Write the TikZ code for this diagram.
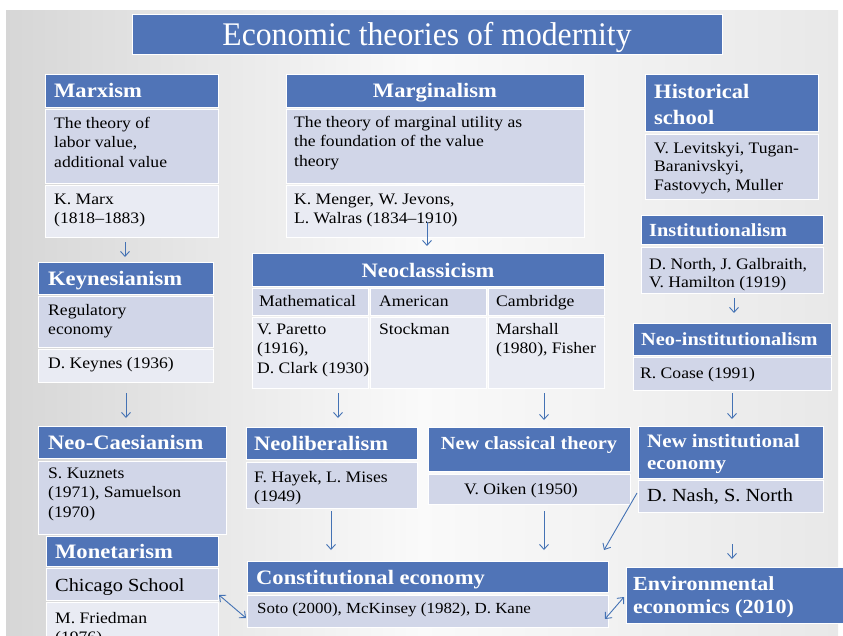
\documentclass[tikz,border=0pt]{standalone}
\usepackage{fontspec}
\setmainfont{Liberation Serif}[FakeStretch=1.1]
\newfontfamily\titlefont{Liberation Serif}
\usetikzlibrary{arrows.meta,fit}
\definecolor{hdrc}{HTML}{5074B7}
\definecolor{bodyA}{HTML}{D1D6E8}
\definecolor{bodyB}{HTML}{E9EBF3}
\definecolor{arrc}{HTML}{4472B4}
\newcommand\lines[1]{\vtop{\halign{##\hfil\cr#1\crcr}}}
\tikzset{
  boxbase/.style={inner sep=0pt, outer sep=0pt, draw=white, line width=0.8pt},
  hdr/.style={boxbase, fill=hdrc},
  bA/.style={boxbase, fill=bodyA},
  bB/.style={boxbase, fill=bodyB},
  ht/.style={text=white, font=\bfseries\fontsize{20.5}{26}\selectfont, inner sep=0pt, anchor=base west},
  hts/.style={ht, font=\bfseries\fontsize{18.5}{22}\selectfont},
  bt/.style={font=\fontsize{16}{19.5}\selectfont, inner sep=0pt, anchor=base west},
  bts/.style={font=\fontsize{16}{18.5}\selectfont, inner sep=0pt, anchor=base west},
  btl/.style={font=\fontsize{18.5}{22}\selectfont, inner sep=0pt, anchor=base west},
  conn/.style={draw=arrc, line width=0.9pt, -{Straight Barb[length=5pt,width=9pt]}},
  dconn/.style={draw=arrc, line width=0.9pt, {Straight Barb[length=5pt,width=9pt]}-{Straight Barb[length=5pt,width=9pt]}}
}
\newcommand\bx[6]{\node[#6, fit={(#2,#3) (#4,#5)}] (#1) {};}
\begin{document}
\begin{tikzpicture}[x=1pt,y=-1pt]
\useasboundingbox (0,0) rectangle (843,635);
\begin{scope}
\clip (0,0) rectangle (843,635);
\fill[white] (0,0) rectangle (843,635);
\shade[left color=black!16, right color=black!9, middle color=black!2] (6,10) rectangle (838,635);

% title
\bx{title}{132}{14}{722}{54}{hdr}
\node[text=white, inner sep=0pt, anchor=base] (ttitle) at (427,45) {\scalebox{0.96}[1]{\titlefont\fontsize{33}{33}\selectfont Economic theories of modernity}};

% Marxism
\bx{marxH}{45}{74}{218}{107}{hdr}
\bx{marxA}{45}{109}{218}{183}{bA}
\bx{marxB}{45}{185}{218}{237}{bB}
\node[ht] (tmarxH) at (54,97) {Marxism};
\node[bt] (tmarxA) at (54,128) {\lines{The theory of\cr labor value,\cr additional value}};
\node[bt] (tmarxB) at (54,204) {\lines{K. Marx\cr (1818--1883)}};

% Marginalism
\bx{margH}{286}{74}{584}{107}{hdr}
\bx{margA}{286}{109}{584}{183}{bA}
\bx{margB}{286}{185}{584}{237}{bB}
\node[ht, anchor=base] (tmargH) at (435,97) {Marginalism};
\node[bt] (tmargA) at (294,127) {\lines{The theory of marginal utility as\cr the foundation of the value\cr theory}};
\node[bt] (tmargB) at (294,204) {\lines{K. Menger, W. Jevons,\cr L. Walras (1834--1910)}};

% Historical school
\bx{histH}{645}{74}{818}{131}{hdr}
\bx{histB}{645}{134}{818}{199}{bA}
\node[ht] (thistH) at (654,98) {\lines{Historical\cr school}};
\node[bts] (thistB) at (654,153) {\lines{V. Levitskyi, Tugan-\cr Baranivskyi,\cr Fastovych, Muller}};

% Institutionalism
\bx{instH}{641}{215}{823}{244}{hdr}
\bx{instB}{641}{247}{823}{293}{bA}
\node[hts] (tinstH) at (649,236) {Institutionalism};
\node[bts] (tinstB) at (649,269) {\lines{D. North, J. Galbraith,\cr V. Hamilton (1919)}};

% Neo-institutionalism
\bx{ninstH}{633}{323}{831}{355}{hdr}
\bx{ninstB}{633}{357}{831}{390}{bA}
\node[hts] (tninstH) at (641,345) {Neo-institutionalism};
\node[bts] (tninstB) at (640,378) {R. Coase (1991)};

% Keynesianism
\bx{keyH}{38}{262}{213}{294}{hdr}
\bx{keyA}{38}{296}{213}{347}{bA}
\bx{keyB}{38}{349}{213}{382}{bB}
\node[ht] (tkeyH) at (48,285) {Keynesianism};
\node[bt] (tkeyA) at (48,315) {\lines{Regulatory\cr economy}};
\node[bt] (tkeyB) at (48,368) {D. Keynes (1936)};

% Neoclassicism
\bx{neoH}{252}{253}{604}{286}{hdr}
\bx{neoC1}{252}{288}{368}{315}{bA}
\bx{neoC2}{370}{288}{486}{315}{bA}
\bx{neoC3}{488}{288}{604}{315}{bA}
\bx{neoD1}{252}{317}{368}{388}{bB}
\bx{neoD2}{370}{317}{486}{388}{bB}
\bx{neoD3}{488}{317}{604}{388}{bB}
\node[ht, anchor=base] (tneoH) at (428,277) {Neoclassicism};
\node[bt] (tneoC1) at (259,306) {Mathematical};
\node[bt] (tneoC2) at (379,306) {American};
\node[bt] (tneoC3) at (496,306) {Cambridge};
\node[bt] (tneoD1) at (257,334) {\lines{V. Paretto\cr (1916),\cr D. Clark (1930)}};
\node[bt] (tneoD2) at (379,334) {Stockman};
\node[bt] (tneoD3) at (496,334) {\lines{Marshall\cr (1980), Fisher}};

% Neo-Caesianism
\bx{ncH}{38}{426}{226}{458}{hdr}
\bx{ncB}{38}{461}{226}{534}{bA}
\node[ht] (tncH) at (48,449) {Neo-Caesianism};
\node[bt] (tncB) at (48,478) {\lines{S. Kuznets\cr (1971), Samuelson\cr (1970)}};

% Neoliberalism
\bx{nlH}{246}{427}{417}{459}{hdr}
\bx{nlB}{246}{462}{417}{508}{bA}
\node[ht] (tnlH) at (254,450) {Neoliberalism};
\node[bt] (tnlB) at (254,482) {\lines{F. Hayek, L. Mises\cr (1949)}};

% New classical theory
\bx{ncltH}{428}{427}{630}{471}{hdr}
\bx{ncltB}{428}{474}{630}{504}{bA}
\node[hts, anchor=base] (tncltH) at (529,449) {New classical theory};
\node[bt, anchor=base] (tncltB) at (521,494) {V. Oiken (1950)};

% New institutional economy
\bx{nieH}{638}{426}{823}{478}{hdr}
\bx{nieB}{638}{480}{823}{512}{bA}
\node[ht, font=\bfseries\fontsize{19}{22}\selectfont] (tnieH) at (647,447) {\lines{New institutional\cr economy}};
\node[btl] (tnieB) at (647,501) {D. Nash, S. North};

% Monetarism
\bx{monH}{46}{536}{218}{566}{hdr}
\bx{monA}{46}{568}{218}{600}{bA}
\bx{monB}{46}{602}{218}{645}{bB}
\node[ht] (tmonH) at (55,558) {Monetarism};
\node[btl] (tmonA) at (55,591) {Chicago School};
\node[bt] (tmonB) at (55,623) {\lines{M. Friedman\cr (1976)}};

% Constitutional economy
\bx{conH}{247}{561}{608}{592}{hdr}
\bx{conB}{247}{595}{608}{627}{bA}
\node[ht] (tconH) at (256,584) {Constitutional economy};
\node[bts, font=\fontsize{15.4}{18}\selectfont] (tconB) at (257,613) {Soto (2000), McKinsey (1982), D. Kane};

% Environmental economics
\bx{envH}{626}{567}{860}{623}{hdr}
\node[ht, font=\bfseries\fontsize{20}{23}\selectfont] (tenvH) at (633,590) {\lines{Environmental\cr economics (2010)}};

% connectors
\coordinate (p1s) at (125,242); \coordinate (p1e) at (125,257);
\coordinate (p2s) at (427,222); \coordinate (p2e) at (427,246);
\coordinate (p3s) at (734,298); \coordinate (p3e) at (734,313);
\coordinate (p4s) at (126,393); \coordinate (p4e) at (126,418);
\coordinate (p5s) at (338,393); \coordinate (p5e) at (338,418);
\coordinate (p6s) at (544,393); \coordinate (p6e) at (544,420);
\coordinate (p7s) at (732,393); \coordinate (p7e) at (732,419);
\coordinate (p8s) at (331,511); \coordinate (p8e) at (331,550);
\coordinate (p9s) at (544,511); \coordinate (p9e) at (544,550);
\coordinate (p10s) at (637,493); \coordinate (p10e) at (604,550);
\coordinate (p11s) at (732,544); \coordinate (p11e) at (732,559);
\coordinate (p12s) at (219,595); \coordinate (p12e) at (246,618);
\coordinate (p13s) at (605,619); \coordinate (p13e) at (624,597);
\draw[conn] (p1s) -- (p1e);
\draw[conn] (p2s) -- (p2e);
\draw[conn] (p3s) -- (p3e);
\draw[conn] (p4s) -- (p4e);
\draw[conn] (p5s) -- (p5e);
\draw[conn] (p6s) -- (p6e);
\draw[conn] (p7s) -- (p7e);
\draw[conn] (p8s) -- (p8e);
\draw[conn] (p9s) -- (p9e);
\draw[conn] (p10s) -- (p10e);
\draw[conn] (p11s) -- (p11e);
\draw[dconn] (p12s) -- (p12e);
\draw[dconn] (p13s) -- (p13e);
\end{scope}
\end{tikzpicture}
\end{document}
